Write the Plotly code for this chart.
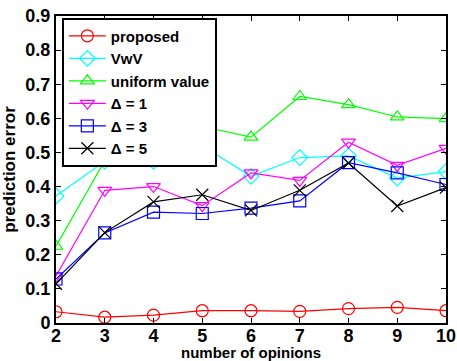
import plotly.graph_objects as go

# number of opinions on the x axis
opinions = [2, 3, 4, 5, 6, 7, 8, 9, 10]

# prediction error per method
proposed = [0.033, 0.017, 0.023, 0.036, 0.036, 0.034, 0.042, 0.046, 0.036]
vwv = [0.372, 0.474, 0.474, 0.52, 0.43, 0.485, 0.49, 0.425, 0.444]
uniform_value = [0.225, 0.476, 0.61, 0.576, 0.545, 0.664, 0.64, 0.604, 0.599]
delta1 = [0.138, 0.389, 0.40, 0.344, 0.44, 0.418, 0.53, 0.462, 0.512]
delta3 = [0.129, 0.264, 0.325, 0.321, 0.337, 0.358, 0.47, 0.44, 0.406]
delta5 = [0.115, 0.265, 0.355, 0.376, 0.33, 0.389, 0.469, 0.343, 0.397]

y_ticks = [0, 0.1, 0.2, 0.3, 0.4, 0.5, 0.6, 0.7, 0.8, 0.9]
y_tick_text = ["0", "0.1", "0.2", "0.3", "0.4", "0.5", "0.6", "0.7", "0.8", "0.9"]

series = [
    ("proposed", proposed, "#ff0000", "circle-open"),
    ("VwV", vwv, "#00ffff", "diamond-open"),
    ("uniform value", uniform_value, "#00ff00", "triangle-up-open"),
    ("\u0394 = 1", delta1, "#ff00ff", "triangle-down-open"),
    ("\u0394 = 3", delta3, "#0000ff", "square-open"),
    ("\u0394 = 5", delta5, "#000000", "x-thin-open"),
]

FONT = "Liberation Sans, Arial, sans-serif"

fig = go.Figure()
for name, values, color, symbol in series:
    fig.add_trace(go.Scatter(
        x=opinions, y=values, name=name, mode="lines+markers",
        line=dict(color=color, width=1.2),
        marker=dict(symbol=symbol, size=12, color=color,
                    line=dict(color=color, width=1.2)),
    ))

axis_common = dict(
    showgrid=False, zeroline=False, showline=True, linecolor="black",
    linewidth=2, mirror="allticks", ticks="inside", ticklen=5,
    tickwidth=1, tickcolor="black", automargin=False,
    tickfont=dict(family=FONT, size=18, color="black", weight="bold"),
)

fig.update_layout(
    width=457, height=361,
    margin=dict(l=56, r=11, t=16, b=38),
    paper_bgcolor="white", plot_bgcolor="white",
    font=dict(family=FONT, color="black"),
    xaxis=dict(
        range=[2, 10], tickvals=opinions, ticklabelstandoff=-5, **axis_common,
        title=dict(text="number of opinions", standoff=5,
                   font=dict(family=FONT, size=15, color="black", weight="bold")),
    ),
    yaxis=dict(
        range=[0, 0.9], tickvals=y_ticks, ticktext=y_tick_text, **axis_common,
        title=dict(text="prediction error", standoff=5,
                   font=dict(family=FONT, size=17, color="black", weight="bold")),
    ),
    legend=dict(
        x=0.015, y=0.995, xanchor="left", yanchor="top",
        bgcolor="white", bordercolor="black", borderwidth=2,
        font=dict(family=FONT, size=15, color="black", weight="bold"),
        itemwidth=37, tracegroupgap=0,
    ),
)

fig.write_html("out.html")
